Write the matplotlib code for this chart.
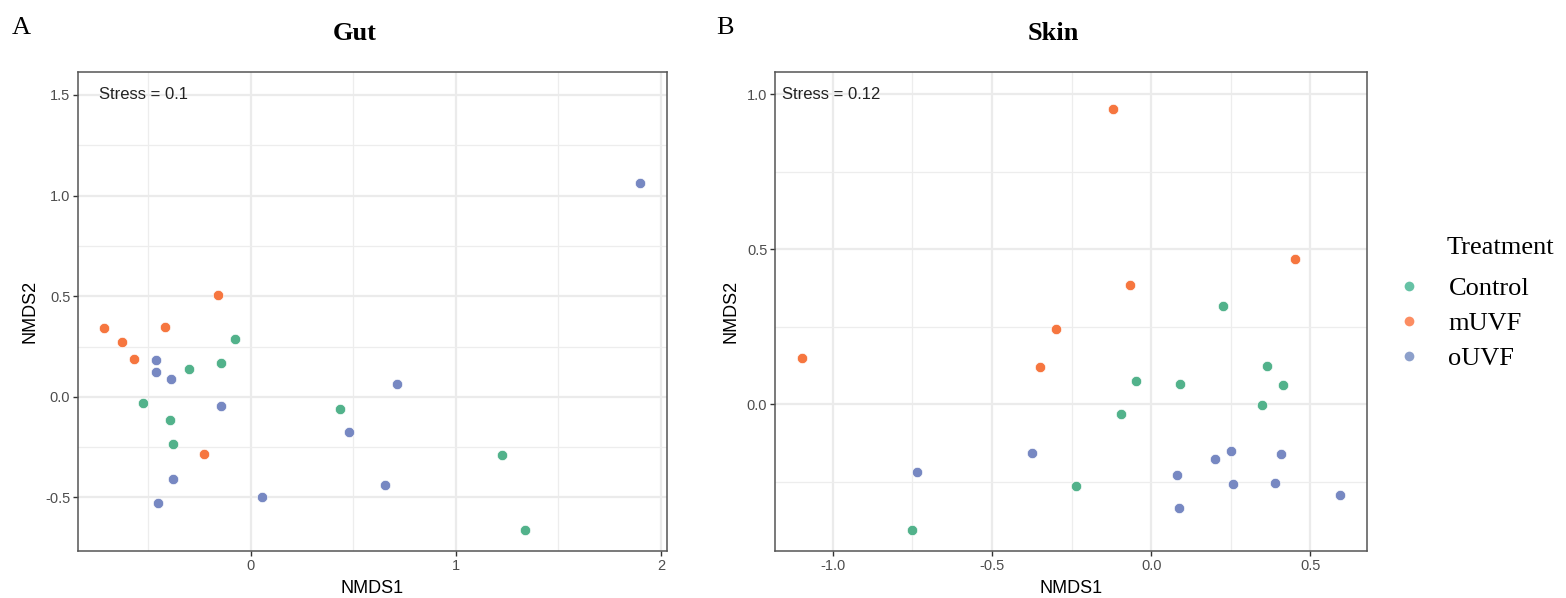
import matplotlib
matplotlib.use("Agg")
import matplotlib.pyplot as plt
from matplotlib.lines import Line2D
import numpy as np

# ---------------- data ----------------
treatments = ["Control", "mUVF", "oUVF"]
colors = {"Control": "#52B28B", "mUVF": "#F6763F", "oUVF": "#7788C2"}
legend_colors = {"Control": "#66C2A5", "mUVF": "#FC8D62", "oUVF": "#8DA0CB"}

gut_control_x = [-0.080, -0.144, -0.303, -0.529, -0.393, -0.380, 0.436, 1.225, 1.335]
gut_control_y = [0.289, 0.169, 0.138, -0.031, -0.113, -0.235, -0.058, -0.290, -0.660]
gut_muvf_x = [-0.161, -0.715, -0.627, -0.570, -0.420, -0.229]
gut_muvf_y = [0.506, 0.343, 0.274, 0.187, 0.348, -0.282]
gut_ouvf_x = [-0.463, -0.465, -0.391, -0.144, 0.714, 0.477, 0.653, 0.053, -0.380, -0.455, 1.897]
gut_ouvf_y = [0.184, 0.124, 0.090, -0.046, 0.065, -0.177, -0.439, -0.496, -0.410, -0.529, 1.063]

skin_control_x = [0.226, 0.364, 0.413, 0.089, -0.049, 0.347, -0.096, -0.237, -0.751]
skin_control_y = [0.315, 0.122, 0.062, 0.066, 0.075, -0.003, -0.032, -0.263, -0.406]
skin_muvf_x = [-0.119, 0.453, -0.068, -0.299, -1.098, -0.349]
skin_muvf_y = [0.951, 0.467, 0.383, 0.242, 0.148, 0.120]
skin_ouvf_x = [-0.374, -0.735, 0.082, 0.086, 0.201, 0.251, 0.257, 0.389, 0.409, 0.593]
skin_ouvf_y = [-0.158, -0.218, -0.229, -0.334, -0.177, -0.150, -0.259, -0.254, -0.162, -0.294]

gut_stress = "Stress = 0.1"
skin_stress = "Stress = 0.12"

# ---------------- figure ----------------
W, H = 1566, 598
fig = plt.figure(figsize=(W / 100, H / 100), dpi=100)

def fx(px):
    return px / W

def fy(py):
    return 1 - py / H

sans = ["Liberation Sans", "DejaVu Sans"]
serif = ["Liberation Serif", "DejaVu Serif"]

def style_axes(ax, xmaj, xmin_, ymaj, ymin_, xlim, ylim, xfmt, yfmt):
    ax.set_xlim(*xlim)
    ax.set_ylim(*ylim)
    ax.set_xticks(xmaj)
    ax.set_yticks(ymaj)
    ax.set_xticks(xmin_, minor=True)
    ax.set_yticks(ymin_, minor=True)
    ax.set_xticklabels([xfmt(v) for v in xmaj], fontfamily=sans, fontsize=10.5, color="#4D4D4D")
    ax.set_yticklabels([yfmt(v) for v in ymaj], fontfamily=sans, fontsize=10.5, color="#4D4D4D")
    ax.grid(which="major", color="#EBEBEB", linewidth=1.6)
    ax.grid(which="minor", color="#EDEDED", linewidth=0.9)
    ax.set_axisbelow(True)
    ax.tick_params(which="major", length=3.5, width=1.0, color="#333333", pad=2)
    ax.tick_params(which="minor", length=0)
    for sp in ax.spines.values():
        sp.set_color("#555555")
        sp.set_linewidth(1.1)
    ax.set_xlabel("NMDS1", fontfamily=sans, fontsize=13, labelpad=5)
    ax.set_ylabel("NMDS2", fontfamily=sans, fontsize=13, labelpad=5)

def draw(ax, data):
    for name, (xs, ys) in zip(treatments, data):
        ax.scatter(xs, ys, s=56, color=colors[name], edgecolors="white", linewidths=0.5, zorder=3)

# left panel
ax1 = fig.add_axes([fx(78), fy(551), fx(667 - 78), (551 - 72) / H])
draw(ax1, [(gut_control_x, gut_control_y), (gut_muvf_x, gut_muvf_y), (gut_ouvf_x, gut_ouvf_y)])
style_axes(ax1, [0, 1, 2], [-0.5, 0.5, 1.5], [-0.5, 0.0, 0.5, 1.0, 1.5],
           [-0.25, 0.25, 0.75, 1.25], (-0.844, 2.03), (-0.766, 1.614),
           lambda v: f"{v:g}", lambda v: f"{v:.1f}")
ax1.text(-0.74, 1.5, gut_stress, fontfamily=sans, fontsize=12, ha="left", va="center", color="#222222")

# right panel
ax2 = fig.add_axes([fx(775), fy(551), fx(1367 - 775), (551 - 72) / H])
draw(ax2, [(skin_control_x, skin_control_y), (skin_muvf_x, skin_muvf_y), (skin_ouvf_x, skin_ouvf_y)])
style_axes(ax2, [-1.0, -0.5, 0.0, 0.5], [-0.75, -0.25, 0.25], [0.0, 0.5, 1.0],
           [-0.25, 0.25, 0.75], (-1.182, 0.678), (-0.474, 1.071),
           lambda v: f"{v:.1f}", lambda v: f"{v:.1f}")
ax2.text(-1.16, 1.0, skin_stress, fontfamily=sans, fontsize=12, ha="left", va="center", color="#222222")

# titles & panel letters
fig.text(fx(355), fy(33), "Gut", fontfamily=serif, fontsize=19, fontweight="bold", ha="center", va="center")
fig.text(fx(1053), fy(33), "Skin", fontfamily=serif, fontsize=19, fontweight="bold", ha="center", va="center")
fig.text(fx(12), fy(28), "A", fontfamily=serif, fontsize=19, ha="left", va="center")
fig.text(fx(716), fy(28), "B", fontfamily=serif, fontsize=19, ha="left", va="center")

# legend
fig.text(fx(1447), fy(248), "Treatment", fontfamily=serif, fontsize=19, ha="left", va="center")
handles = [Line2D([], [], marker="o", linestyle="none", markersize=7,
                  markerfacecolor=legend_colors[t], markeredgewidth=0) for t in treatments]
fig.legend(handles, treatments, loc="upper left", bbox_to_anchor=(fx(1393), fy(277)),
           frameon=False, prop={"family": serif, "size": 19}, handlelength=1.2,
           handletextpad=0.9, labelspacing=0.43, borderaxespad=0, borderpad=0)

fig.savefig("out.png", dpi=100)
